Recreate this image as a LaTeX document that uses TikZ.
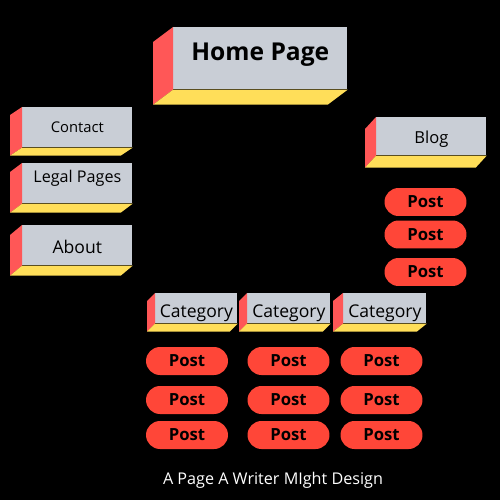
\documentclass[tikz,border=0pt]{standalone}
\usepackage{fontspec}
\setmainfont{Open Sans}
\usetikzlibrary{positioning,calc}
\definecolor{slab}{HTML}{C9CED6}
\definecolor{edgered}{HTML}{FF5757}
\definecolor{edgegold}{HTML}{FFDE59}
\definecolor{pill}{HTML}{FF4638}

\begin{document}
\begin{tikzpicture}[x=0.02cm,y=-0.02cm,
  face/.style={fill=slab,inner sep=0pt,anchor=north west,text=black},
  catface/.style={face,minimum height=0.6cm,text height=12.9pt,text depth=2.4pt,font=\fontsize{10}{12}\selectfont},
  post/.style={fill=pill,rounded corners=0.28cm,minimum width=1.64cm,minimum height=0.56cm,
    inner sep=0pt,font=\bfseries\fontsize{9.5}{10}\selectfont}]
\useasboundingbox[fill=black] (0,0) rectangle (500,500);
% page slabs
\node[face,minimum width=3.48cm,minimum height=1.24cm,text height=10pt,text depth=7pt,font=\bfseries\fontsize{14}{16}\selectfont] (home) at (173,27) {Home Page};
\node[face,minimum width=2.2cm,minimum height=0.8cm,font=\fontsize{8.4}{10}\selectfont] (contact) at (22,107) {Contact};
\node[face,minimum width=2.2cm,minimum height=0.8cm,text height=6.6pt,text depth=7.2pt,font=\fontsize{9.2}{11}\selectfont] (legal) at (22,163) {Legal Pages};
\node[face,minimum width=2.2cm,minimum height=0.8cm,text height=9.3pt,text depth=0pt,font=\fontsize{10}{12}\selectfont] (about) at (22,225) {About};
\node[face,minimum width=2.2cm,minimum height=0.76cm,text height=10.7pt,text depth=2.3pt,font=\fontsize{9.4}{11}\selectfont] (blog) at (376,117) {Blog};
\node[catface,minimum width=1.64cm] (cat1) at (155,293) {Category};
\node[catface,minimum width=1.66cm] (cat2) at (247,293) {Category};
\node[catface,minimum width=1.66cm] (cat3) at (343,293) {Category};
% side and bottom faces
\foreach \n/\dx/\dy in {home/20/15,contact/12/8,legal/12/9,about/12/10,blog/11/12,cat1/8/8,cat2/8/8,cat3/10/8}{
  \fill[edgered] (\n.north west) -- ++(-\dx,\dy) -- ($(\n.south west)+(-\dx,\dy)$) -- (\n.south west) -- cycle;
  \fill[edgegold] (\n.south west) -- (\n.south east) -- ++(-\dx,\dy) -- ($(\n.south west)+(-\dx,\dy)$) -- cycle;
}
% posts
\foreach \cy [count=\j] in {202,234.5,272}
  \node[post] (b\j) at (425.5,\cy) {Post};
\foreach \cx [count=\i] in {187,288.5,381.5}
  \foreach \cy [count=\j] in {361,400,435}
    \node[post] (p\i\j) at (\cx,\cy) {Post};
\node[text=white,font=\fontsize{9.2}{11}\selectfont] (caption) at (273,480) {A Page A Writer MIght Design};
\end{tikzpicture}
\end{document}
